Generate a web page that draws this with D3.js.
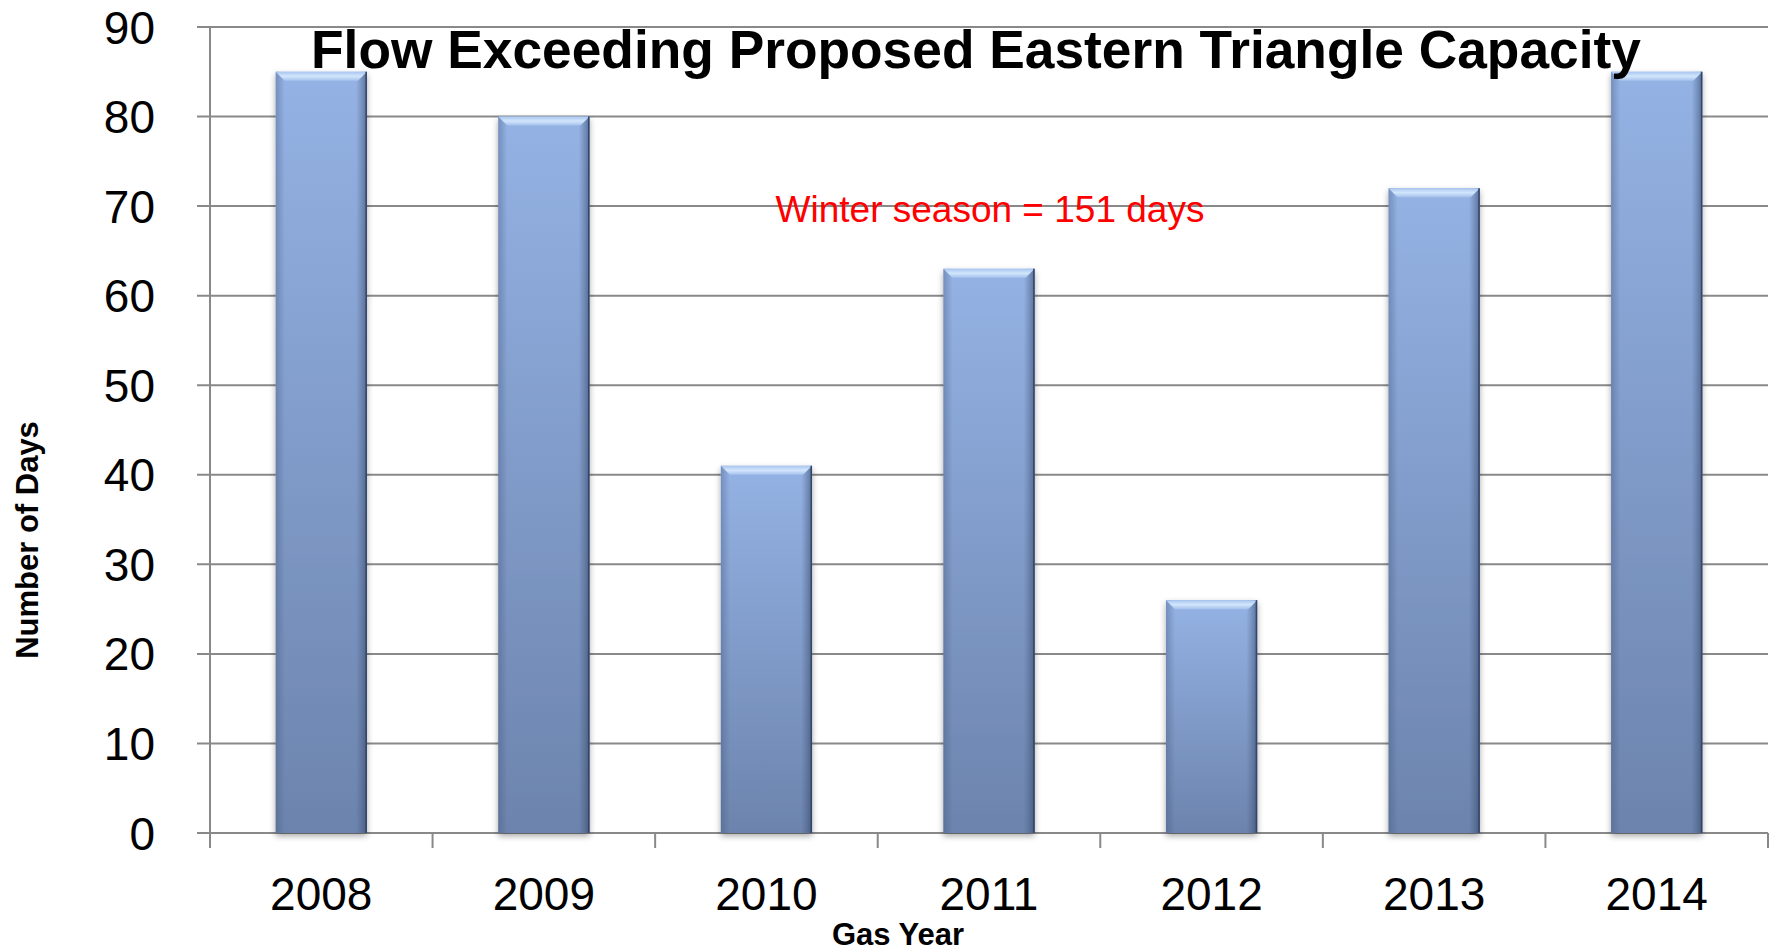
<!DOCTYPE html>
<html>
<head>
<meta charset="utf-8">
<script src="https://cdn.jsdelivr.net/npm/d3@7"></script>
<style>
  body { margin: 0; background: #fff; }
  svg { display: block; font-family: "Liberation Sans", Arial, sans-serif; }
</style>
</head>
<body>
<div id="chart"></div>
<script>
// data
var years = ["2008", "2009", "2010", "2011", "2012", "2013", "2014"];
var days = [85, 80, 41, 63, 26, 72, 85];
var yTicks = [0, 10, 20, 30, 40, 50, 60, 70, 80, 90];

var W = 1777, H = 952;
var margin = { top: 27, right: 9, bottom: 119, left: 210 };

var svg = d3.select("#chart").append("svg")
    .attr("width", W)
    .attr("height", H);

var defs = svg.append("defs");

// vertical body gradient of the bars
var body = defs.append("linearGradient").attr("id", "barBody")
    .attr("x1", 0).attr("y1", 0).attr("x2", 0).attr("y2", 1);
body.append("stop").attr("offset", "0%").attr("stop-color", "#94b2e4");
body.append("stop").attr("offset", "100%").attr("stop-color", "#6c84ad");

// darker side edges
var sides = defs.append("linearGradient").attr("id", "barSides")
    .attr("x1", 0).attr("y1", 0).attr("x2", 1).attr("y2", 0);
sides.append("stop").attr("offset", "0%").attr("stop-color", "#3b4f73").attr("stop-opacity", 0.35);
sides.append("stop").attr("offset", "10%").attr("stop-color", "#3b4f73").attr("stop-opacity", 0);
sides.append("stop").attr("offset", "88%").attr("stop-color", "#3b4f73").attr("stop-opacity", 0);
sides.append("stop").attr("offset", "100%").attr("stop-color", "#2c3b58").attr("stop-opacity", 0.55);

// top bevel highlight
var bevel = defs.append("linearGradient").attr("id", "barBevel")
    .attr("x1", 0).attr("y1", 0).attr("x2", 0).attr("y2", 1);
bevel.append("stop").attr("offset", "0%").attr("stop-color", "#a9c6f0");
bevel.append("stop").attr("offset", "50%").attr("stop-color", "#d2e6fc");
bevel.append("stop").attr("offset", "100%").attr("stop-color", "#a4c0ec");

var shadow = defs.append("filter").attr("id", "barShadow")
    .attr("x", "-20%").attr("y", "-5%").attr("width", "140%").attr("height", "115%");
shadow.append("feDropShadow")
    .attr("dx", 0).attr("dy", 3)
    .attr("stdDeviation", 3)
    .attr("flood-color", "#000")
    .attr("flood-opacity", 0.35);

var x = d3.scaleBand()
    .domain(years)
    .range([margin.left, W - margin.right])
    .paddingInner(0.59)
    .paddingOuter(0.295);

var y = d3.scaleLinear()
    .domain([0, 90])
    .range([H - margin.bottom, margin.top]);

// gridlines (they also make the y tick marks)
svg.selectAll(".grid")
    .data(yTicks)
    .enter().append("line")
    .attr("class", "grid")
    .attr("x1", margin.left - 13)
    .attr("x2", W - margin.right)
    .attr("y1", d => y(d))
    .attr("y2", d => y(d))
    .attr("stroke", "#898989")
    .attr("stroke-width", 2);

// y axis line
svg.append("line")
    .attr("x1", margin.left).attr("x2", margin.left)
    .attr("y1", y(90)).attr("y2", y(0) + 15)
    .attr("stroke", "#898989")
    .attr("stroke-width", 2);

// x tick marks at the category boundaries
var bounds = d3.range(years.length + 1).map(i => margin.left + i * x.step());
svg.selectAll(".xTick")
    .data(bounds)
    .enter().append("line")
    .attr("class", "xTick")
    .attr("x1", d => d).attr("x2", d => d)
    .attr("y1", y(0)).attr("y2", y(0) + 15)
    .attr("stroke", "#898989")
    .attr("stroke-width", 2);

// y tick labels
svg.selectAll(".yLabel")
    .data(yTicks)
    .enter().append("text")
    .attr("class", "yLabel")
    .attr("x", 155)
    .attr("y", d => y(d))
    .attr("dy", "0.36em")
    .attr("text-anchor", "end")
    .attr("font-size", "46px")
    .text(d => d);

// x tick labels
svg.selectAll(".xLabel")
    .data(years)
    .enter().append("text")
    .attr("class", "xLabel")
    .attr("x", d => x(d) + x.bandwidth() / 2)
    .attr("y", 910)
    .attr("text-anchor", "middle")
    .attr("font-size", "46px")
    .text(d => d);

// bars
var bars = svg.selectAll(".bar")
    .data(years)
    .enter().append("g")
    .attr("class", "bar");

bars.append("rect")
    .attr("x", d => x(d))
    .attr("y", (d, i) => y(days[i]))
    .attr("width", x.bandwidth())
    .attr("height", (d, i) => y(0) - y(days[i]))
    .attr("fill", "url(#barBody)")
    .attr("filter", "url(#barShadow)");

bars.append("rect")
    .attr("x", d => x(d))
    .attr("y", (d, i) => y(days[i]))
    .attr("width", x.bandwidth())
    .attr("height", (d, i) => y(0) - y(days[i]))
    .attr("fill", "url(#barSides)");

var b = 9;
bars.append("path")
    .attr("d", function (d, i) {
        var x0 = x(d), x1 = x(d) + x.bandwidth(), y0 = y(days[i]);
        return "M" + x0 + "," + y0 + "L" + x1 + "," + y0 +
            "L" + (x1 - b) + "," + (y0 + b) + "L" + (x0 + b) + "," + (y0 + b) + "Z";
    })
    .attr("fill", "url(#barBevel)");

bars.append("line")
    .attr("x1", d => x(d) + x.bandwidth() - 0.75)
    .attr("x2", d => x(d) + x.bandwidth() - 0.75)
    .attr("y1", (d, i) => y(days[i]))
    .attr("y2", y(0))
    .attr("stroke", "#34456a")
    .attr("stroke-width", 1.5);

// title
svg.append("text")
    .attr("x", 976)
    .attr("y", 68)
    .attr("text-anchor", "middle")
    .attr("font-size", "53.3px")
    .attr("font-weight", "bold")
    .text("Flow Exceeding Proposed Eastern Triangle Capacity");

// annotation
svg.append("text")
    .attr("x", 990)
    .attr("y", 222)
    .attr("text-anchor", "middle")
    .attr("font-size", "37px")
    .attr("fill", "#ff0000")
    .text("Winter season = 151 days");

// axis titles
svg.append("text")
    .attr("transform", "translate(38,540) rotate(-90)")
    .attr("text-anchor", "middle")
    .attr("font-size", "31px")
    .attr("font-weight", "bold")
    .text("Number of Days");

svg.append("text")
    .attr("x", 898)
    .attr("y", 945)
    .attr("text-anchor", "middle")
    .attr("font-size", "31px")
    .attr("font-weight", "bold")
    .text("Gas Year");
</script>
</body>
</html>
